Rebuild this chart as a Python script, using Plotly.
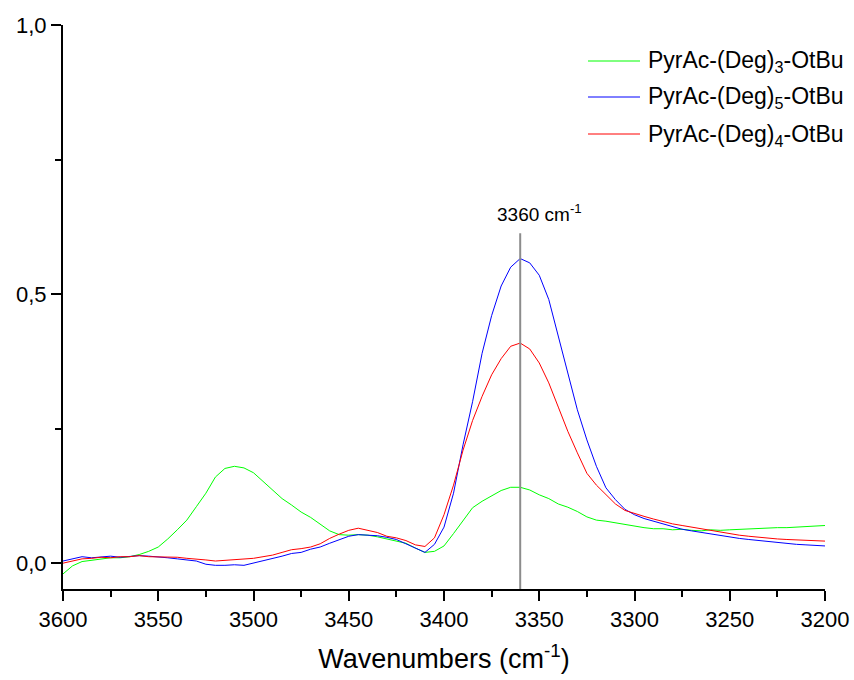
import plotly.graph_objects as go

# Wavenumber grid (cm^-1), 5 cm^-1 step from 3600 down to 3200
wavenumbers = list(range(3600, 3195, -5))

deg3 = [
    -0.020, -0.005, 0.003, 0.005, 0.008, 0.010, 0.010, 0.012, 0.016, 0.022,
    0.030, 0.045, 0.062, 0.080, 0.105, 0.130, 0.160, 0.176, 0.180, 0.177,
    0.168, 0.152, 0.135, 0.120, 0.108, 0.095, 0.085, 0.072, 0.060, 0.053,
    0.052, 0.053, 0.052, 0.049, 0.045, 0.042, 0.037, 0.028, 0.020, 0.022,
    0.032, 0.055, 0.080, 0.103, 0.115, 0.125, 0.135, 0.141, 0.141, 0.136,
    0.127, 0.120, 0.110, 0.104, 0.096, 0.086, 0.080, 0.078, 0.075, 0.071,
    0.068, 0.066, 0.064, 0.064, 0.062, 0.063, 0.061, 0.060, 0.062, 0.061,
    0.062, 0.063, 0.063, 0.064, 0.065, 0.066, 0.066, 0.067, 0.068, 0.069,
    0.070,
]

deg5 = [
    0.004, 0.008, 0.012, 0.010, 0.012, 0.013, 0.011, 0.013, 0.014, 0.013,
    0.012, 0.010, 0.008, 0.006, 0.004, -0.002, -0.004, -0.004, -0.003, -0.004,
    0.000, 0.004, 0.009, 0.013, 0.018, 0.020, 0.026, 0.030, 0.037, 0.043,
    0.050, 0.053, 0.052, 0.051, 0.048, 0.044, 0.036, 0.028, 0.020, 0.035,
    0.067, 0.130, 0.220, 0.300, 0.390, 0.460, 0.515, 0.550, 0.566, 0.558,
    0.535, 0.490, 0.420, 0.350, 0.285, 0.229, 0.180, 0.140, 0.118, 0.100,
    0.090, 0.083, 0.078, 0.072, 0.068, 0.063, 0.060, 0.057, 0.054, 0.051,
    0.049, 0.046, 0.044, 0.042, 0.040, 0.038, 0.036, 0.035, 0.034, 0.033,
    0.032,
]

deg4 = [
    0.000, 0.004, 0.008, 0.009, 0.011, 0.010, 0.012, 0.012, 0.014, 0.012,
    0.012, 0.011, 0.011, 0.009, 0.008, 0.006, 0.004, 0.005, 0.007, 0.008,
    0.009, 0.012, 0.015, 0.020, 0.025, 0.027, 0.030, 0.036, 0.046, 0.054,
    0.061, 0.065, 0.061, 0.057, 0.050, 0.047, 0.042, 0.034, 0.031, 0.047,
    0.090, 0.145, 0.210, 0.265, 0.310, 0.350, 0.380, 0.403, 0.409, 0.398,
    0.372, 0.335, 0.290, 0.245, 0.205, 0.167, 0.145, 0.128, 0.110, 0.098,
    0.092, 0.087, 0.082, 0.077, 0.073, 0.070, 0.067, 0.063, 0.060, 0.057,
    0.055, 0.052, 0.050, 0.048, 0.046, 0.045, 0.044, 0.043, 0.042, 0.042,
    0.041,
]

series_names = [
    "PyrAc-(Deg)<sub>3</sub>-OtBu",
    "PyrAc-(Deg)<sub>5</sub>-OtBu",
    "PyrAc-(Deg)<sub>4</sub>-OtBu",
]
series_values = [deg3, deg5, deg4]
series_colors = ["#00ff00", "#0000ff", "#ff0000"]

marker_wn = 3360
marker_top = 0.613

FONT = "Arial, Liberation Sans, sans-serif"

fig = go.Figure()
for name, vals, col in zip(series_names, series_values, series_colors):
    fig.add_trace(go.Scatter(
        x=wavenumbers, y=vals, mode="lines", name=name,
        line=dict(color=col, width=1), showlegend=False,
    ))

y_min, y_max = -0.048, 1.0

# vertical marker line at the band maximum
fig.add_shape(type="line", xref="x", yref="y",
              x0=marker_wn, x1=marker_wn, y0=y_min, y1=marker_top,
              line=dict(color="#8c8c8c", width=2))
fig.add_annotation(x=marker_wn, y=marker_top, xref="x", yref="y",
                   text="3360 cm<sup>-1</sup>", showarrow=False,
                   xanchor="left", yanchor="bottom", xshift=-25, yshift=6,
                   font=dict(family=FONT, size=19, color="black"))

# key in the upper right corner
key_rows = [61, 97, 134]
W, H, L, T = 854, 680, 63, 25
PW, PH = 762, 564
for name, col, py in zip(series_names, series_colors, key_rows):
    yp = (T + PH - py) / PH
    fig.add_shape(type="line", xref="paper", yref="paper",
                  x0=(588 - L) / PW, x1=(640 - L) / PW, y0=yp, y1=yp,
                  line=dict(color=col, width=1))
    fig.add_annotation(x=(646 - L) / PW, y=yp, xref="paper", yref="paper",
                       text=name, showarrow=False, xanchor="left",
                       yanchor="middle", yshift=-1,
                       font=dict(family=FONT, size=23, color="black"))

fig.update_layout(
    width=W, height=H,
    margin=dict(l=L, r=W - L - PW, t=T, b=H - T - PH),
    paper_bgcolor="white", plot_bgcolor="white",
    separators=", ",
    font=dict(family=FONT, color="black"),
    showlegend=False,
)
fig.update_xaxes(
    range=[3600, 3200], tickmode="linear", tick0=3200, dtick=50,
    automargin=False,
    ticks="outside", ticklen=10, tickwidth=2, tickcolor="black",
    showline=True, linecolor="black", linewidth=2, showgrid=False,
    zeroline=False, tickfont=dict(family=FONT, size=22),
    minor=dict(dtick=25, tick0=3200, ticks="outside", ticklen=6,
               tickwidth=2, tickcolor="black", showgrid=False),
    title=dict(text="Wavenumbers (cm<sup>-1</sup>)",
               font=dict(family=FONT, size=27), standoff=18),
)
fig.update_yaxes(
    range=[y_min, y_max], tickmode="array", tickvals=[0, 0.5, 1.0],
    tickformat=".1f", automargin=False,
    ticks="outside", ticklen=10, tickwidth=2, tickcolor="black",
    showline=True, linecolor="black", linewidth=2, showgrid=False,
    zeroline=False, tickfont=dict(family=FONT, size=22),
    minor=dict(tickmode="array", tickvals=[0.25, 0.75], ticks="outside",
               ticklen=6, tickwidth=2, tickcolor="black", showgrid=False),
)

fig.write_html("out.html")
